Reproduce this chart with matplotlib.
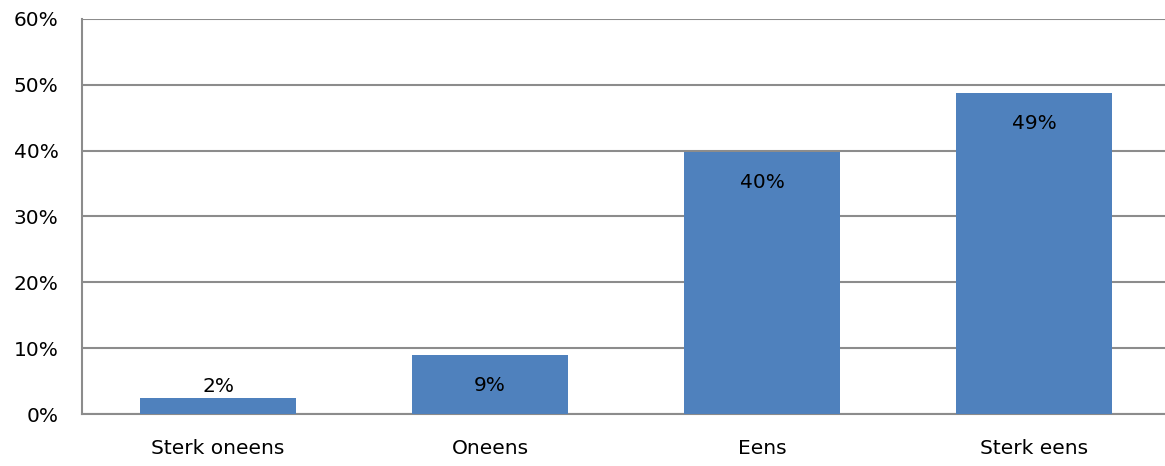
import matplotlib.pyplot as plt
from matplotlib.ticker import PercentFormatter

categories = ["Sterk oneens", "Oneens", "Eens", "Sterk eens"]
values = [2.4, 8.9, 39.8, 48.8]
labels = ["2%", "9%", "40%", "49%"]
yticks = [0, 10, 20, 30, 40, 50, 60]

bar_color = "#4F81BD"
grid_color = "#8C8C8C"

plt.rcParams["font.family"] = ["DejaVu Sans"]

fig = plt.figure(figsize=(11.65, 4.66), dpi=100)
W, H = 1165, 466
ax = fig.add_axes([82 / W, 52 / H, 1088 / W, 395 / H])

x = list(range(len(categories)))
ax.bar(x, values, width=0.575, color=bar_color, zorder=3)

# data labels: inside end, but pushed up for bars too short to hold them
for xi, v, lab in zip(x, values, labels):
    ly = max(v - 4.6, 4.25)
    ax.text(xi, ly, lab, ha="center", va="center", fontsize=14.5, color="black", zorder=4)

ax.set_xlim(-0.5, len(categories) - 0.5)
ax.set_ylim(0, 60)
ax.set_yticks(yticks)
ax.yaxis.set_major_formatter(PercentFormatter(decimals=0))
ax.set_xticks(x)
ax.set_xticklabels(categories)
ax.tick_params(axis="both", length=0, labelsize=14.5, colors="black")
ax.tick_params(axis="y", pad=17)
ax.tick_params(axis="x", pad=18)
for lab in ax.get_yticklabels():
    lab.set_horizontalalignment("right")

ax.grid(axis="y", color=grid_color, linewidth=1.5, zorder=0)
for side in ["top", "right"]:
    ax.spines[side].set_visible(False)
ax.spines["left"].set_color(grid_color)
ax.spines["left"].set_linewidth(1.5)
ax.spines["bottom"].set_color(grid_color)
ax.spines["bottom"].set_linewidth(1.5)

fig.savefig("out.png", dpi=100)
